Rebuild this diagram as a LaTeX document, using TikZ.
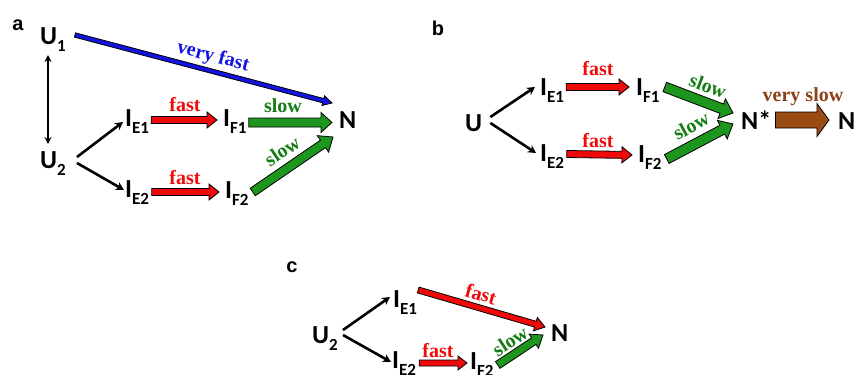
\documentclass[tikz,border=0pt]{standalone}
\usepackage{fontspec}
\setmainfont{Carlito}
\newfontfamily\labfont{Liberation Serif}
\newfontfamily\panfont{Liberation Sans}
\usetikzlibrary{calc,arrows.meta}

\definecolor{cred}{RGB}{240,10,10}
\definecolor{cgreen}{RGB}{30,150,30}
\definecolor{cgreenT}{RGB}{20,125,20}
\definecolor{cblue}{RGB}{20,20,225}
\definecolor{cbrown}{RGB}{155,75,20}
\definecolor{cbrownT}{RGB}{140,65,25}

\newcommand\Sb[2]{#1\raisebox{-7pt}{\fontsize{17}{17}\selectfont #2}}

% #1 fill colour, #2 shaft half width, #3 head half width, #4 head length, #5 from, #6 to
\newcommand\fatarrow[6]{%
  \draw[fill=#1, line width=0.8pt, line join=miter, miter limit=20]
    let \p1=#5, \p2=#6, \n1={atan2(\y2-\y1,\x2-\x1)}, \n2={veclen(\x2-\x1,\y2-\y1)} in
    ($(\p1)+(\n1+90:#2)$) -- ($(\p1)+(\n1:\n2-#4)+(\n1+90:#2)$)
    -- ($(\p1)+(\n1:\n2-#4)+(\n1+90:#3)$) -- (\p2)
    -- ($(\p1)+(\n1:\n2-#4)+(\n1-90:#3)$) -- ($(\p1)+(\n1:\n2-#4)+(\n1-90:#2)$)
    -- ($(\p1)+(\n1-90:#2)$) -- cycle;}

\tikzset{
  v/.style={inner sep=0pt, anchor=base west, font=\fontsize{26}{26}\selectfont\bfseries},
  pan/.style={inner sep=0pt, font=\panfont\fontsize{20}{20}\selectfont\bfseries},
  lab/.style={inner sep=0pt, font=\labfont\fontsize{20}{20}\selectfont\bfseries},
  line/.style={line width=2.6pt, -{Stealth[length=8pt,width=8.5pt]}},
  dline/.style={line width=1.9pt, {Stealth[length=7pt,width=7pt]}-{Stealth[length=7pt,width=7pt]}},
}

\begin{document}
\begin{tikzpicture}[x=1pt,y=-1pt]
\useasboundingbox (0,0) rectangle (855,375);

% ---------------- panel a ----------------
\node[pan] (pa) at (18,25) {a};
\node[v] (U1) at (40,44) {\Sb{U}{1}};
\node[v] (U2) at (40,168) {\Sb{U}{2}};
\node[v] (IE1) at (125,126) {\Sb{I}{E1}};
\node[v] (IF1) at (223,126) {\Sb{I}{F1}};
\node[v] (IE2) at (125,197) {\Sb{I}{E2}};
\node[v] (IF2) at (225,198) {\Sb{I}{F2}};
\node[v] (N) at (339,128) {N};

\draw[dline] ($(U1.base west)+(8,11)$) -- ($(U2.base west)+(8,-24)$);
\draw[line] ($(U2.base east)+(11,-11)$) -- ($(IE1.base west)+(-2,-4)$);
\draw[line] ($(U2.base east)+(11,-5)$) -- ($(IE2.base west)+(-1,-7)$);

\fatarrow{cblue}{2.2pt}{5pt}{9pt}{($(U1.base east)+(9,-9)$)}{($(N.base west)+(-7,-25)$)}
\node[lab, text=cblue, rotate=-14.8] (lvf) at (213,57) {very fast};

\fatarrow{cred}{3.5pt}{8pt}{10pt}{($(IE1.base east)+(2,-6)$)}{($(IF1.base west)+(-6,-6)$)}
\node[lab, text=cred] (lfa1) at (185,105) {fast};
\fatarrow{cgreen}{4.5pt}{10pt}{11pt}{($(IF1.base east)+(2,-3.5)$)}{($(N.base west)+(-7,-5.5)$)}
\node[lab, text=cgreenT] (lsa1) at (283,106) {slow};

\fatarrow{cred}{3.5pt}{8pt}{10pt}{($(IE2.base east)+(2.5,-5)$)}{($(IF2.base west)+(-6,-6)$)}
\node[lab, text=cred] (lfa2) at (185,178) {fast};
\fatarrow{cgreen}{4.5pt}{10pt}{12pt}{($(IF2.base east)+(4,-6)$)}{($(N.base west)+(-6,9)$)}
\node[lab, text=cgreenT, rotate=34] (lsa2) at (282,151) {slow};

% ---------------- panel b ----------------
\node[pan] (pb) at (438,28) {b};
\node[v] (bU) at (465,131) {U};
\node[v] (bIE1) at (540,95) {\Sb{I}{E1}};
\node[v] (bIF1) at (636,95) {\Sb{I}{F1}};
\node[v] (bIE2) at (540,161) {\Sb{I}{E2}};
\node[v] (bIF2) at (638,162) {\Sb{I}{F2}};
\node[v] (bNs) at (741,129) {N*};
\node[v] (bN) at (838,129) {N};

\draw[line] ($(bU.base east)+(8,-14)$) -- ($(bIE1.base west)+(-5,-8)$);
\draw[line] ($(bU.base east)+(8,-8)$) -- ($(bIE2.base west)+(-4,-8)$);

\fatarrow{cred}{3.5pt}{8pt}{10pt}{($(bIE1.base east)+(2,-8)$)}{($(bIF1.base west)+(-7,-8)$)}
\node[lab, text=cred] (lfb1) at (598,69) {fast};
\fatarrow{cred}{3.5pt}{8pt}{10pt}{($(bIE2.base east)+(2.5,-7)$)}{($(bIF2.base west)+(-6,-7)$)}
\node[lab, text=cred] (lfb2) at (598,141) {fast};

\fatarrow{cgreen}{5pt}{10.5pt}{12pt}{($(bIF1.base east)+(5,-8)$)}{($(bNs.base west)+(-8,-16)$)}
\node[lab, text=cgreenT, rotate=-21] (lsb1) at (708,86) {slow};
\fatarrow{cgreen}{5pt}{10.5pt}{12pt}{($(bIF2.base east)+(5,-3)$)}{($(bNs.base west)+(-8,-5)$)}
\node[lab, text=cgreenT, rotate=28] (lsb2) at (691,126) {slow};

\fatarrow{cbrown}{8pt}{16.5pt}{12pt}{($(bNs.base east)+(4,-9)$)}{($(bN.base west)+(-9,-9)$)}
\node[lab, text=cbrownT] (lvs) at (803,97) {very slow};

% ---------------- panel c ----------------
\node[pan] (pc) at (292,267) {c};
\node[v] (cU2) at (312,343) {\Sb{U}{2}};
\node[v] (cIE1) at (393,307) {\Sb{I}{E1}};
\node[v] (cIE2) at (392,368) {\Sb{I}{E2}};
\node[v] (cIF2) at (470,369) {\Sb{I}{F2}};
\node[v] (cN) at (551,341) {N};

\draw[line] ($(cU2.base east)+(5,-13)$) -- ($(cIE1.base west)+(-3,-10)$);
\draw[line] ($(cU2.base east)+(5,-8)$) -- ($(cIE2.base west)+(-1,-6)$);

\fatarrow{cred}{3pt}{7pt}{10pt}{($(cIE1.base east)+(1,-17)$)}{($(cN.base west)+(-6,-14)$)}
\node[lab, text=cred, rotate=-16] (lfc1) at (481,294) {fast};
\fatarrow{cred}{3pt}{7pt}{9pt}{($(cIE2.base east)+(3,-5)$)}{($(cIF2.base west)+(-3,-6)$)}
\node[lab, text=cred] (lfc2) at (438,351) {fast};
\fatarrow{cgreen}{4pt}{8.5pt}{11pt}{($(cIF2.base east)+(4,-4)$)}{($(cN.base west)+(-8,-6)$)}
\node[lab, text=cgreenT, rotate=33] (lsc) at (510,341) {slow};
\end{tikzpicture}
\end{document}
